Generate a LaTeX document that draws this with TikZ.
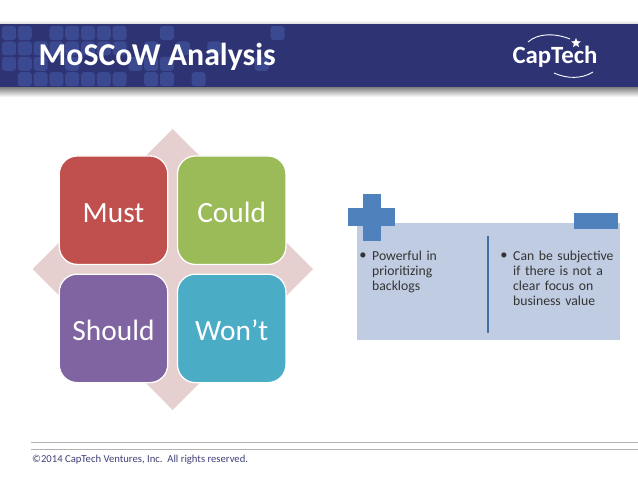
\documentclass[tikz,border=0pt]{standalone}
\usepackage{fontspec}
\setmainfont{Carlito}
\usepackage{xcolor}
\usetikzlibrary{shapes.geometric}
\definecolor{bandblue}{HTML}{2E3374}
\definecolor{tileblue}{HTML}{3B4A90}
\definecolor{mustred}{HTML}{C0504D}
\definecolor{couldgreen}{HTML}{9BBB59}
\definecolor{shouldpurple}{HTML}{8064A2}
\definecolor{wontcyan}{HTML}{4BACC6}
\definecolor{diamondpink}{HTML}{E6CFCF}
\definecolor{panelblue}{HTML}{C0CCE2}
\definecolor{signblue}{HTML}{4F81BD}
\definecolor{footblue}{HTML}{3D4178}
\tikzset{
    quadbox/.style={rounded corners=18pt, draw=white, line width=1.3pt, minimum width=108.5pt,
        minimum height=108.5pt, inner sep=0pt, text=white, text height=24pt, text depth=0pt,
        font=\fontsize{29.4}{32}\selectfont},
    tilebox/.style={fill=tileblue, rounded corners=3pt},
    pointtext/.style={anchor=north west, align=left, inner sep=0pt, text width=108pt,
        text=black!80, font=\fontsize{13.7}{15}\selectfont},
    dotmark/.style={anchor=base, inner sep=0pt, text=black!80, font=\fontsize{14.5}{15}\selectfont},
    footline/.style={draw=black!30, line width=0.8pt}
}
\begin{document}
\begin{tikzpicture}[x=1pt, y=-1pt]
    \useasboundingbox (0,0) rectangle (638,479);
    % header band
    \shade[top color=black!50, bottom color=white] (0,87) rectangle (638,97);
    \shade[top color=white, bottom color=black!15] (0,20) rectangle (638,24);
    \fill[bandblue] (0,24) rectangle (638,87);
    \foreach \col/\row in {0/0,1/0,3/0,4/0,5/0,6/0,7/0,10/0,17/0,
        0/1,1/1,2/1,3/1,4/1,5/1,6/1,7/1,9/1,11/1,13/1,
        0/2,1/2,2/2,4/2,8/2,9/2,10/2,16/2,
        1/3,2/3,3/3,4/3,5/3,6/3,7/3,9/3,10/3,12/3}
        \fill[tilebox] ({2+15.8*\col},{26+15.4*\row}) rectangle ++(14,14);
    \node[anchor=base west, inner sep=0pt, text=white, font=\fontsize{31.8}{34}\selectfont\bfseries] (title) at (38.5,65) {MoSCoW Analysis};
    % logo
    \node[anchor=base, inner sep=0pt, text=white, font=\fontsize{24.8}{28}\selectfont\bfseries] (logo) at (555,63) {CapTech};
    \draw[white, line width=0.9pt] (528,42) .. controls (538,33) and (555,33) .. (570,39);
    \draw[white, line width=0.9pt] (554,73) .. controls (567,79) and (582,79) .. (593,72);
    \node[star, star points=5, star point ratio=2.2, fill=white, inner sep=0pt, minimum size=10pt] (logostar) at (576,43) {};
    % diamond and quadrants
    \fill[diamondpink] (172.7,129) -- (313,269) -- (172.7,410) -- (32.7,269) -- cycle;
    \node[quadbox, fill=mustred] (must) at (113.5,210.2) {Must};
    \node[quadbox, fill=couldgreen] (could) at (231.7,210.2) {Could};
    \node[quadbox, fill=shouldpurple] (should) at (113.5,328.4) {Should};
    \node[quadbox, fill=wontcyan] (wont) at (231.7,328.4) {Won’t};
    % pros and cons panel
    \fill[panelblue] (357,222.7) rectangle (620,339.5);
    \fill[signblue] (363.3,194) rectangle (380.7,240.7);
    \fill[signblue] (348.3,208.3) rectangle (395.3,226);
    \fill[signblue] (574.3,213.3) rectangle (618.3,229.3);
    \draw[signblue!85!black, line width=1.8pt] (488.3,236) -- (488.3,332.7);
    \node[dotmark] (prodot) at (363,259.5) {•};
    \node[pointtext, text width=100pt] (pro) at (372,250.5) {Powerful in\\prioritizing\\backlogs};
    \node[dotmark] (condot) at (504,259.5) {•};
    \node[pointtext] (con) at (513,250.5) {Can be subjective\\if there is not a\\clear focus on\\business value};
    % footer
    \draw[footline] (31,442.3) -- (638,442.3);
    \draw[footline] (31,449.5) -- (638,449.5);
    \node[anchor=base west, inner sep=0pt, text=footblue, font=\fontsize{10.65}{12}\selectfont] (copy) at (32,462.5) {©2014 CapTech Ventures, Inc.\ \ All rights reserved.};
\end{tikzpicture}
\end{document}
